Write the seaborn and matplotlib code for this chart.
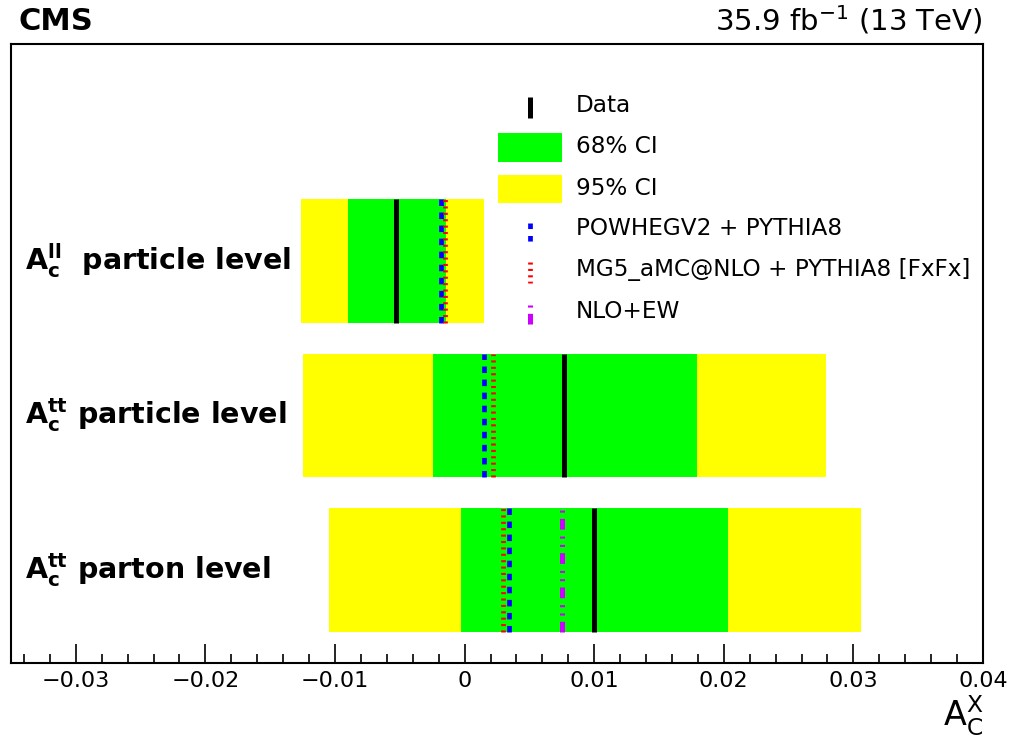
import numpy as np
import matplotlib
matplotlib.use("Agg")
import matplotlib.pyplot as plt
from matplotlib.ticker import MultipleLocator, FixedLocator, FixedFormatter
from matplotlib.patches import Rectangle
import seaborn as sns

# ---------------- data (bottom row first) ----------------
row_labels = [r"$\mathbf{A}_{\mathbf{c}}^{\mathbf{tt}}$ parton level",
              r"$\mathbf{A}_{\mathbf{c}}^{\mathbf{tt}}$ particle level",
              r"$\mathbf{A}_{\mathbf{c}}^{\mathbf{ll}}$  particle level"]
data_val = [0.0100, 0.0077, -0.0053]
ci68_lo = [-0.0003, -0.0024, -0.0090]
ci68_hi = [0.0203, 0.0179, -0.0014]
ci95_lo = [-0.0105, -0.0125, -0.0126]
ci95_hi = [0.0306, 0.0279, 0.0015]
powheg = [0.0034, 0.0015, -0.0018]
mg5 = [0.0030, 0.0022, -0.0015]
nloew = [0.0075, np.nan, np.nan]

xticks = [-0.03, -0.02, -0.01, 0.0, 0.01, 0.02, 0.03, 0.04]
xtick_labels = ["\u22120.03", "\u22120.02", "\u22120.01", "0", "0.01", "0.02", "0.03", "0.04"]
legend_labels = ["Data", "68% CI", "95% CI", "POWHEGV2 + PYTHIA8",
                 "MG5_aMC@NLO + PYTHIA8 [FxFx]", "NLO+EW"]

# ---------------- style ----------------
sns.set_theme(style="white")
plt.rcParams["font.family"] = ["DejaVu Sans"]
plt.rcParams["mathtext.fontset"] = "dejavusans"
plt.rcParams["lines.scale_dashes"] = False
plt.rcParams["text.color"] = "black"
plt.rcParams["axes.labelcolor"] = "black"
plt.rcParams["xtick.color"] = "black"
plt.rcParams["xtick.labelcolor"] = "black"

W, H = 1015, 755
fig = plt.figure(figsize=(W / 100, H / 100), dpi=100)
L, R, T, B = 11, 983, 44, 663
ax = fig.add_axes([L / W, 1 - B / H, (R - L) / W, (B - T) / H])

GREEN = "#00ff00"
YELLOW = "#ffff00"
BLUE = "#0000ff"
RED = "#ff0000"
MAG = "#cc00ff"

bar_h = 0.80
ypos = np.arange(len(row_labels))
ax.barh(ypos, np.array(ci95_hi) - np.array(ci95_lo), left=ci95_lo, height=bar_h,
        color=YELLOW, linewidth=0, zorder=1)
ax.barh(ypos, np.array(ci68_hi) - np.array(ci68_lo), left=ci68_lo, height=bar_h,
        color=GREEN, linewidth=0, zorder=2)

blue_dash = (0, (4.7, 4.7))
red_dash = (0, (1.5, 3.1))
mag_dash = (0, (7.7, 4.5, 1.5, 4.5, 1.5, 5.0))

for i, y in enumerate(ypos):
    y0, y1 = y - bar_h / 2, y + bar_h / 2
    ax.plot([data_val[i]] * 2, [y0, y1], color="black", lw=3.6, solid_capstyle="butt", zorder=5)
    ax.plot([powheg[i]] * 2, [y0, y1], color=BLUE, lw=3.4, linestyle=blue_dash,
            dash_capstyle="butt", zorder=4)
    ax.plot([mg5[i]] * 2, [y0, y1], color=RED, lw=3.4, linestyle=red_dash,
            dash_capstyle="butt", zorder=4)
    if not np.isnan(nloew[i]):
        ax.plot([nloew[i]] * 2, [y0, y1], color=MAG, lw=3.6, linestyle=mag_dash,
                dash_capstyle="butt", zorder=4)
    ax.text(-0.0339, y, row_labels[i], fontsize=20.5, fontweight="bold",
            ha="left", va="center", zorder=6, color="black")

ax.set_xlim(-0.035, 0.04)
ax.set_ylim(-0.602, 3.405)
ax.set_yticks([])
ax.xaxis.set_major_locator(FixedLocator(xticks))
ax.xaxis.set_major_formatter(FixedFormatter(xtick_labels))
ax.xaxis.set_minor_locator(MultipleLocator(0.002))
ax.tick_params(axis="x", which="major", direction="in", length=13.7, width=1.2,
               labelsize=16, pad=6, bottom=True, top=False, color="black", labelcolor="black")
ax.tick_params(axis="x", which="minor", direction="in", length=6.8, width=1.2,
               bottom=True, top=False, color="black")
for s in ax.spines.values():
    s.set_linewidth(1.5)
    s.set_color("black")

ax.set_xlabel(r"$\mathrm{A}_{\mathrm{C}}^{\mathrm{X}}$", fontsize=24, loc="right",
              labelpad=2, color="black")

# ---------------- legend (drawn in axes fraction) ----------------
def fx(px):
    return (px - L) / (R - L)

def fy(py):
    return (B - py) / (B - T)

tr = ax.transAxes
ax.plot([fx(530)] * 2, [fy(97), fy(118)], transform=tr, color="black", lw=3.6,
        solid_capstyle="butt", zorder=7)
ax.add_patch(Rectangle((fx(498), fy(162)), fx(562) - fx(498), fy(133) - fy(162),
                       transform=tr, color=GREEN, lw=0, zorder=7))
ax.add_patch(Rectangle((fx(498), fy(203)), fx(562) - fx(498), fy(175) - fy(203),
                       transform=tr, color=YELLOW, lw=0, zorder=7))
ax.plot([fx(530)] * 2, [fy(223), fy(242)], transform=tr, color=BLUE, lw=3.4,
        linestyle=(0, (4.0, 5.0)), dash_capstyle="butt", zorder=7)
ax.plot([fx(530)] * 2, [fy(262), fy(283)], transform=tr, color=RED, lw=3.4,
        linestyle=red_dash, dash_capstyle="butt", zorder=7)
ax.plot([fx(530)] * 2, [fy(305), fy(325)], transform=tr, color=MAG, lw=3.6,
        linestyle=(0, (1.5, 4.5, 7.7, 5.0)), dash_capstyle="butt", zorder=7)
for lab, py in zip(legend_labels, [106, 147, 189, 229, 270, 312]):
    ax.text(fx(576), fy(py), lab, transform=tr, fontsize=16.7, ha="left", va="center",
            zorder=7, color="black")

# ---------------- header ----------------
fig.text(19 / W, 1 - 29.5 / H, "CMS", fontsize=22, fontweight="bold", ha="left",
         va="baseline", color="black")
fig.text(982 / W, 1 - 30 / H, r"35.9 fb$^{-1}$ (13 TeV)", fontsize=21, ha="right",
         va="baseline", color="black")

fig.savefig("out.png", dpi=100)
